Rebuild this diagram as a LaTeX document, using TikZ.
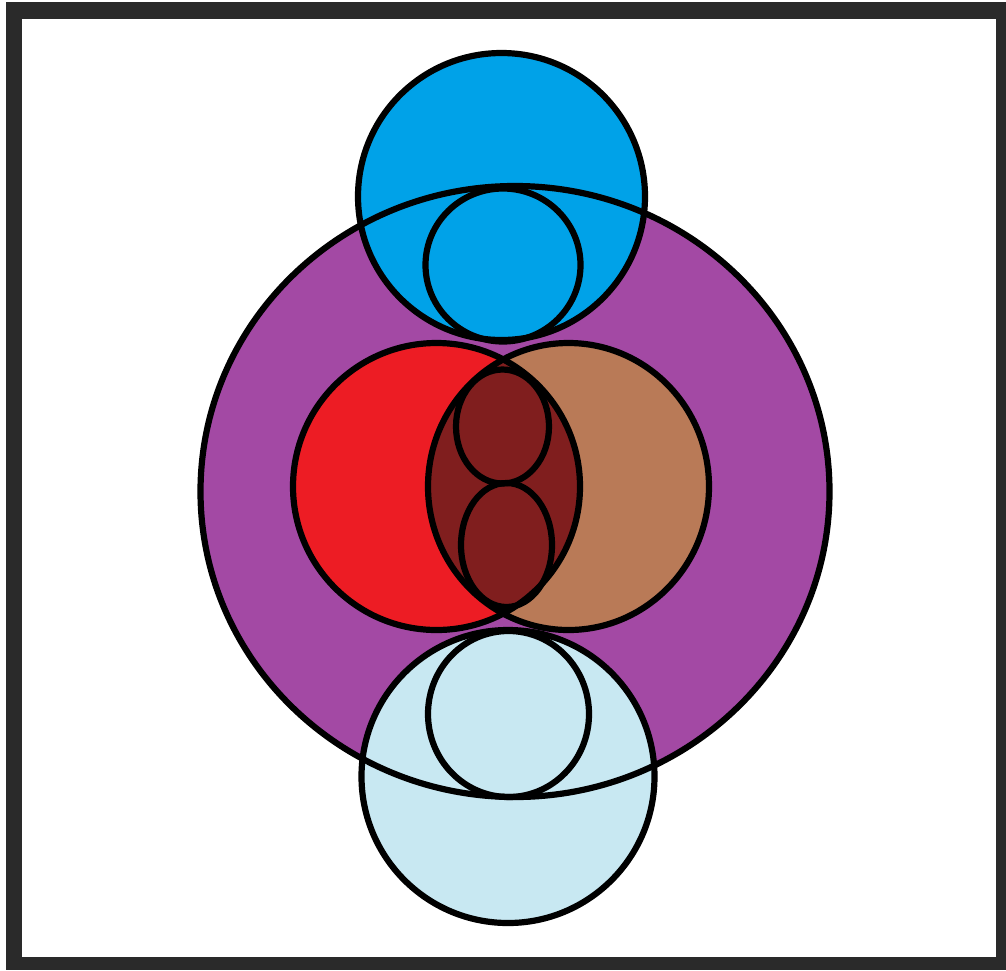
\documentclass[tikz,border=0pt]{standalone}
\definecolor{framec}{RGB}{42,42,42}
\definecolor{purp}{RGB}{163,73,164}
\definecolor{blu}{RGB}{0,162,232}
\definecolor{lblu}{RGB}{200,232,242}
\definecolor{redc}{RGB}{237,28,36}
\definecolor{brownc}{RGB}{185,122,87}
\definecolor{lensc}{RGB}{128,30,30}
\begin{document}
\begin{tikzpicture}[x=1pt,y=-1pt,
  outl/.style={draw=black,line width=6.2pt}]
\useasboundingbox (0,0) rectangle (1006,970);
% frame
\fill[white] (0,0) rectangle (1006,970);
\fill[framec] (6,2) rectangle (1006,970);
\fill[white] (22,19) rectangle (996,957);
% fills
\fill[purp] (515,491.5) ellipse [x radius=314.5, y radius=305.5];
\fill[blu] (501.5,196.5) circle [radius=143.5];
\fill[lblu] (508,776.5) circle [radius=146.5];
\fill[redc] (436.5,486.5) circle [radius=143.5];
\fill[brownc] (568.5,486.5) ellipse [x radius=140.5, y radius=143.5];
\begin{scope}
  \clip (436.5,486.5) circle [radius=143.5];
  \fill[lensc] (568.5,486.5) ellipse [x radius=140.5, y radius=143.5];
\end{scope}
% outlines
\draw[outl] (515,491.5) ellipse [x radius=314.5, y radius=305.5];
\draw[outl] (501.5,196.5) circle [radius=143.5];
\draw[outl] (503,265) ellipse [x radius=77.5, y radius=76.5];
\draw[outl] (508,776.5) circle [radius=146.5];
\draw[outl] (508.5,714) ellipse [x radius=80.5, y radius=83];
\draw[outl] (436.5,486.5) circle [radius=143.5];
\draw[outl] (568.5,486.5) ellipse [x radius=140.5, y radius=143.5];
\draw[outl] (502.5,426.5) ellipse [x radius=46.5, y radius=57];
\draw[outl] (506.5,545) ellipse [x radius=45.5, y radius=62];
\end{tikzpicture}
\end{document}
